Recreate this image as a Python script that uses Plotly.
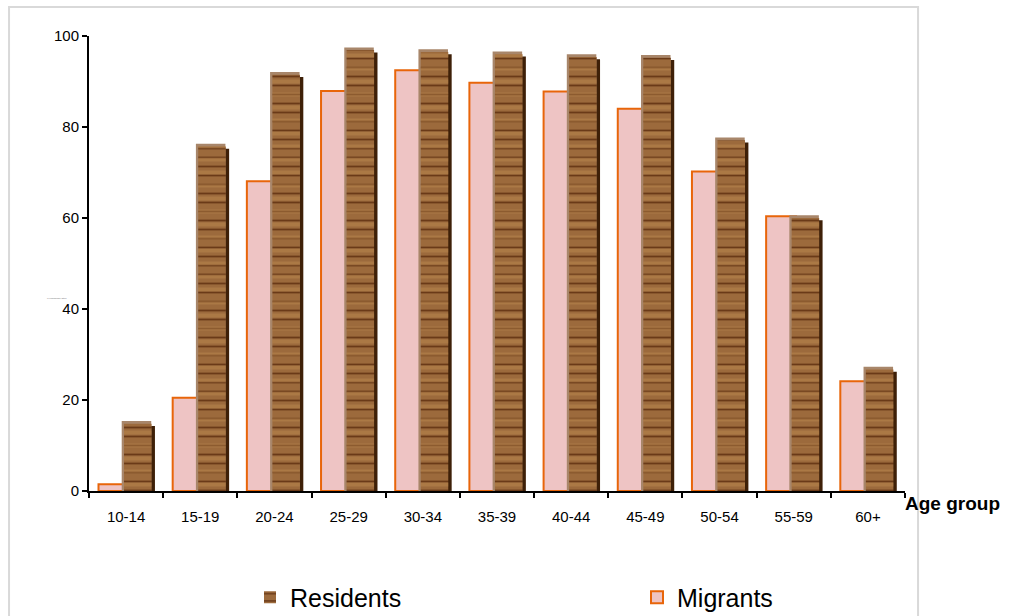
import plotly.graph_objects as go

# Age groups and percentage values for each population
age_groups = ["10-14", "15-19", "20-24", "25-29", "30-34", "35-39",
              "40-44", "45-49", "50-54", "55-59", "60+"]
migrants = [1.5, 20.5, 68.1, 87.9, 92.5, 89.7, 87.8, 84.0, 70.2, 60.4, 24.1]
residents = [15.4, 76.3, 92.1, 97.5, 97.1, 96.6, 96.0, 95.8, 77.7, 60.6, 27.3]
y_ticks = [0, 20, 40, 60, 80, 100]

FONT = "Liberation Sans, Arial, sans-serif"

# bevel depths (in y units) for the 3D look of the resident bars
TOP_BEVEL = 0.6
SHADOW_DROP = 1.1

fig = go.Figure()

# Migrants: pink bars with an orange edge, partly hidden behind residents
fig.add_trace(go.Bar(
    x=age_groups, y=migrants, name="Migrants",
    offset=-0.372, width=0.404,
    marker=dict(color="#EEC4C4", line=dict(color="#E8650A", width=2)),
    legend="legend2",
))

# Residents: dark right-hand shadow
fig.add_trace(go.Bar(
    x=age_groups, y=[v - SHADOW_DROP for v in residents],
    offset=0.012, width=0.377,
    marker=dict(color="#3E2008", line=dict(width=0)),
    showlegend=False, hoverinfo="skip",
))

# Residents: light bevel on top and left
fig.add_trace(go.Bar(
    x=age_groups, y=residents,
    offset=-0.059, width=0.398,
    marker=dict(color="#A8866A", line=dict(width=0)),
    showlegend=False, hoverinfo="skip",
))

# Residents: wood-grain front face (dark grain lines)
fig.add_trace(go.Bar(
    x=age_groups, y=[v - TOP_BEVEL for v in residents], name="Residents",
    offset=-0.028, width=0.371,
    marker=dict(
        color="#9A6638",
        line=dict(width=0),
        pattern=dict(shape="-", fgcolor="#6A3A18", bgcolor="#9C6A3C",
                     size=9, solidity=0.2, fillmode="replace"),
    ),
    legend="legend",
))

# Residents: lighter grain layered on top for an irregular wood look
fig.add_trace(go.Bar(
    x=age_groups, y=[v - TOP_BEVEL for v in residents],
    offset=-0.028, width=0.371,
    marker=dict(
        color="rgba(0,0,0,0)",
        line=dict(width=0),
        pattern=dict(shape="-", fgcolor="rgba(196,146,84,0.75)",
                     bgcolor="rgba(0,0,0,0)",
                     size=13, solidity=0.3, fillmode="overlay"),
    ),
    showlegend=False, hoverinfo="skip",
))

legend_common = dict(
    orientation="h", xref="container", yref="container",
    xanchor="left", yanchor="middle", y=0.03,
    font=dict(size=25, family=FONT), bgcolor="rgba(0,0,0,0)",
)

fig.update_layout(
    width=1010, height=616,
    barmode="overlay",
    plot_bgcolor="white", paper_bgcolor="white",
    margin=dict(l=89, r=105, t=36, b=125, autoexpand=False),
    font=dict(family=FONT, color="black"),
    showlegend=True,
    legend=dict(x=250 / 1010, **legend_common),
    legend2=dict(x=637 / 1010, **legend_common),
    xaxis=dict(
        showline=True, linecolor="black", linewidth=2,
        ticks="outside", tickson="boundaries", ticklen=5, tickwidth=1.5,
        tickcolor="black", showgrid=False, zeroline=False,
        tickfont=dict(size=15, family=FONT), ticklabelstandoff=11,
    ),
    yaxis=dict(
        range=[0, 100], tickvals=y_ticks,
        showline=True, linecolor="black", linewidth=2,
        ticks="outside", ticklen=5, tickwidth=1.5, tickcolor="black",
        showgrid=False, zeroline=False,
        tickfont=dict(size=15, family=FONT),
    ),
    shapes=[dict(
        type="rect", xref="paper", yref="paper",
        x0=-0.098, x1=1.016, y0=-0.45, y1=1.064,
        line=dict(color="#D9D9D9", width=2), fillcolor="rgba(0,0,0,0)",
        layer="below",
    )],
    annotations=[
        dict(text="<b>Age group</b>", xref="paper", yref="paper",
             x=1.0576, y=-0.027, xanchor="center", yanchor="middle",
             showarrow=False, font=dict(size=19, family=FONT)),
        dict(text="% economically active", xref="paper", yref="paper",
             x=-0.023, y=0.425, xanchor="right", yanchor="middle",
             showarrow=False, font=dict(size=2, family=FONT, color="#666666")),
    ],
)

fig.write_html("out.html")
